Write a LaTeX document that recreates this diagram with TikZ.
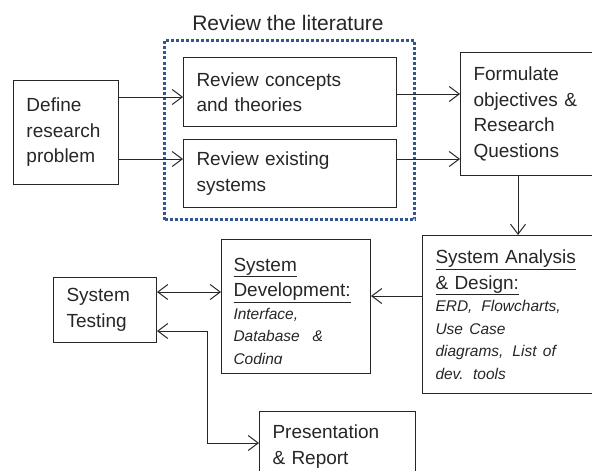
\documentclass[tikz,border=0pt]{standalone}
\usepackage{xcolor}
\usepackage{fontspec}
\setmainfont{Liberation Sans}
\usetikzlibrary{arrows.meta}

\begin{document}
	\begin{tikzpicture}[x=1pt,y=-1pt,
			box/.style={draw=black!85,line width=1pt,anchor=north west,align=left,inner xsep=13pt,inner ysep=0pt,text=black!85,font=\fontsize{19}{25.5}\selectfont},
			arr/.style={draw=black!85,line width=1pt,-{Straight Barb[length=10pt,width=15pt]}},
			arrs/.style={draw=black!85,line width=1pt,{Straight Barb[length=10pt,width=15pt]}-{Straight Barb[length=10pt,width=15pt]}}]
		\useasboundingbox (0,0) rectangle (592,471);
		\definecolor{colFrame}{RGB}{50,86,146}

		\node[text=black!85,font=\fontsize{21}{25}\selectfont] (littitle) at (288,23) {Review the literature};
		\node[draw=colFrame,line width=3pt,dash pattern=on 3pt off 2pt,minimum width=250pt,minimum height=179pt,inner sep=0pt] (litbox) at (289.5,130) {};

		\node[box,minimum width=105pt,minimum height=104pt,text width=79pt] (define) at (13,80) {Define\\research\\problem};
		\node[box,minimum width=213pt,minimum height=69pt,text width=187pt] (concepts) at (183,57) {Review concepts\\and theories};
		\node[box,minimum width=213pt,minimum height=68pt,text width=187pt] (existing) at (183,139) {Review existing\\systems};
		\node[box,minimum width=150pt,minimum height=123pt,text width=124pt] (formulate) at (460,52) {Formulate\\objectives \&\\Research\\Questions};
		\node[box,minimum width=180pt,minimum height=158pt,text width=154pt] (analysis) at (422,235) {\underline{System Analysis}\\\underline{\& Design:}\par
			{\itshape\fontsize{15.5}{22.5}\selectfont ERD,\, Flowcharts,\\Use Case\\diagrams,\, List of\\dev. tools\par}};
		\node[box,minimum width=147pt,minimum height=134pt,text width=123pt] (dev) at (221,239) {};
		\begin{scope}
			\clip (221,239) rectangle (368,363);
			\node[box,draw=none,minimum height=134pt,text width=123pt,inner xsep=12pt] (devtext) at (221,245) {\underline{System}\\\underline{Development:}\par
				{\itshape\fontsize{15.5}{22.5}\selectfont Interface,\\Database \ \&\\Coding\par}};
		\end{scope}
		\node[box,minimum width=103pt,minimum height=65pt,text width=77pt] (testing) at (53,277) {System\\Testing};
		\node[box,minimum width=156pt,minimum height=70pt,text width=130pt] (report) at (259,411) {Presentation\\\& Report};

		\coordinate (bend) at (207,331);

		\draw[arr] (define.east |- 0,97) -- (concepts.west |- 0,97);
		\draw[arr] (define.east |- 0,159) -- (existing.west |- 0,159);
		\draw[arr] (concepts.east |- 0,94) -- (formulate.west |- 0,94);
		\draw[arr] (existing.east |- 0,159) -- (formulate.west |- 0,159);
		\draw[arr] (formulate.south -| 518,0) -- (analysis.north -| 518,0);
		\draw[arr] (analysis.west |- 0,296) -- (dev.east |- 0,296);
		\draw[arrs] (testing.east |- 0,292) -- (dev.west |- 0,292);
		\draw[arrs] (testing.east |- bend) -- (bend) |- (report.west |- 0,443);
	\end{tikzpicture}
\end{document}
